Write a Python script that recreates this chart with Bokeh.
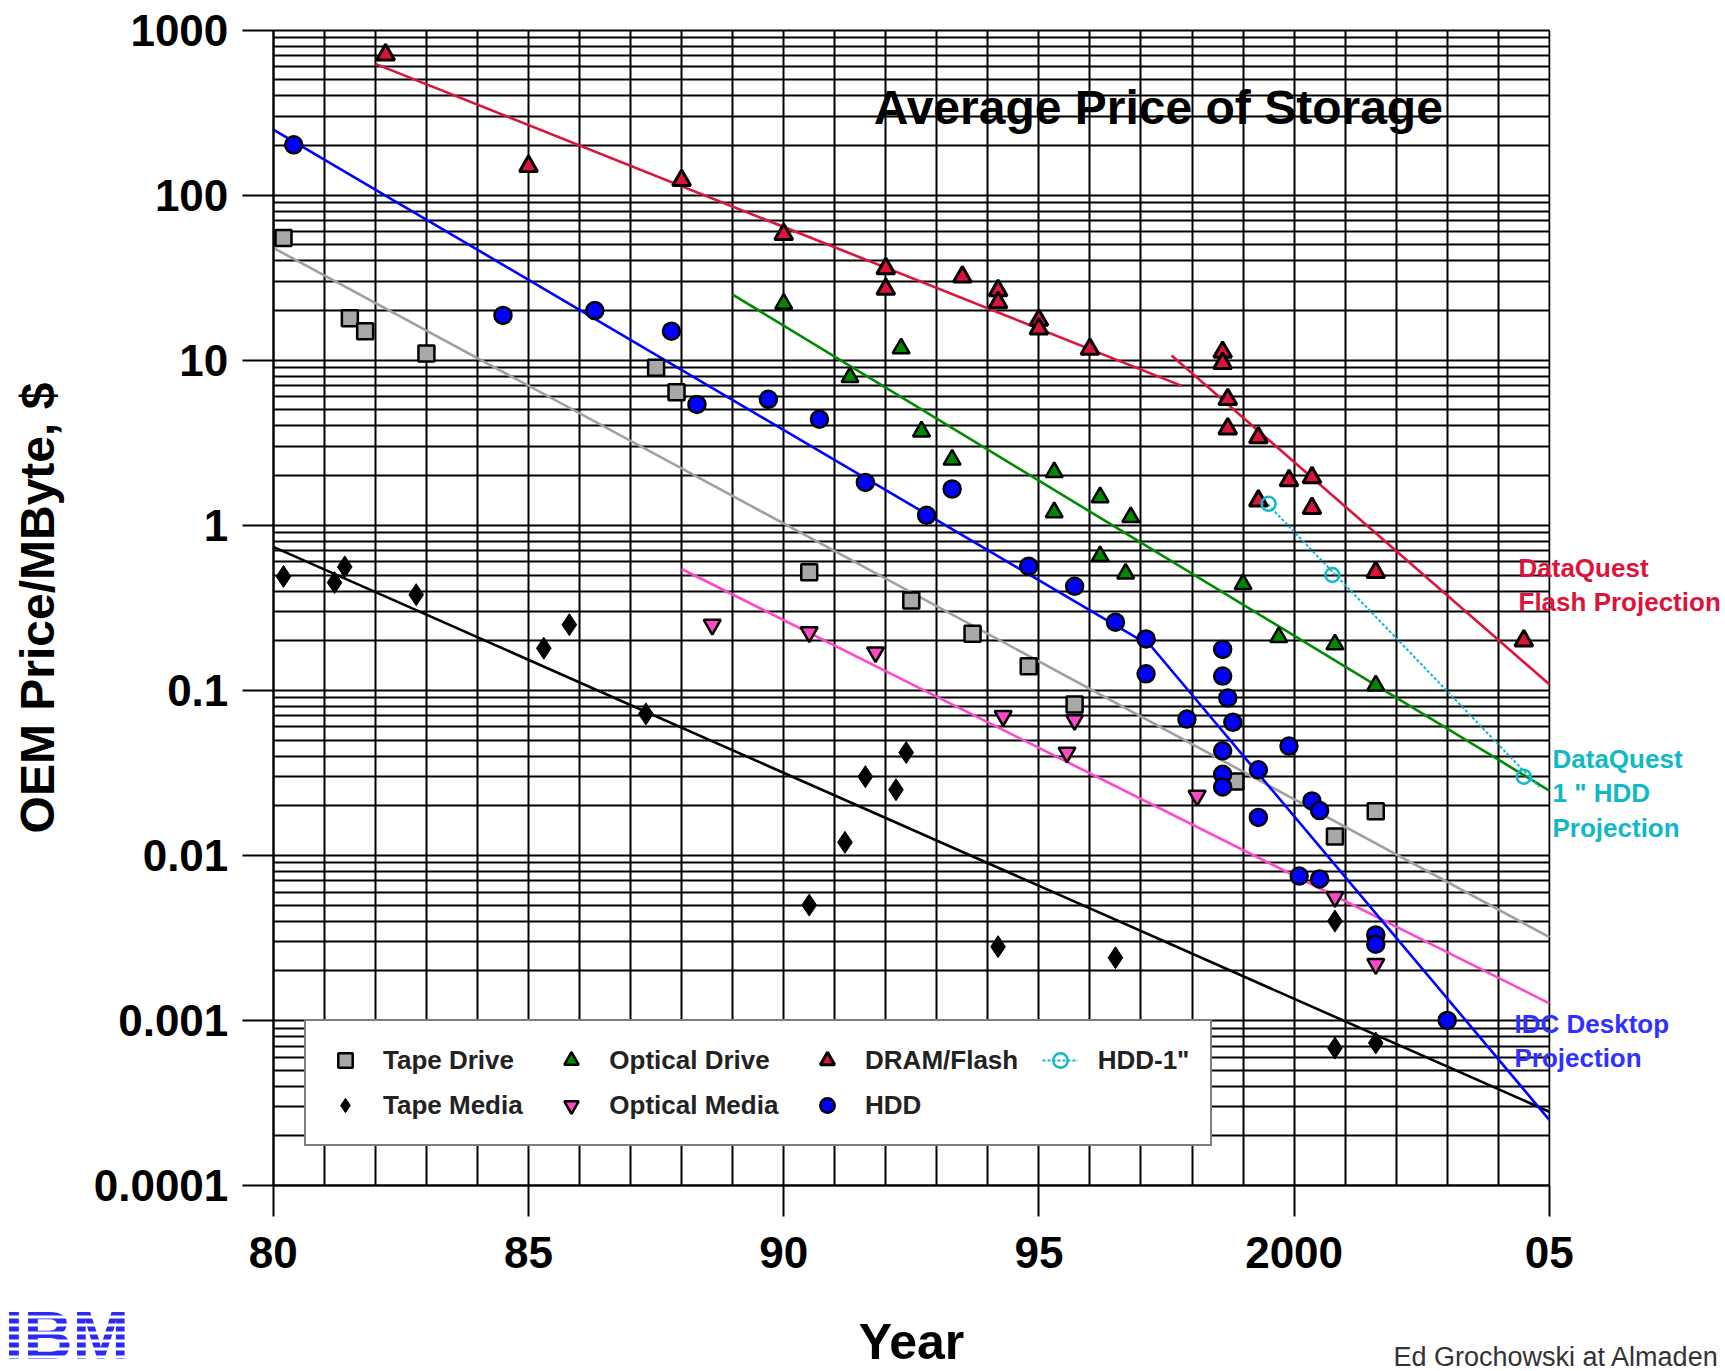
from bokeh.plotting import figure
from bokeh.models import FixedTicker, Label, Legend, LegendItem, Range1d, BoxAnnotation
from bokeh.embed import file_html
from bokeh.resources import INLINE

# ---------------- data ----------------
tape_drive_year = [1980.2, 1981.5, 1981.8, 1983.0, 1987.5, 1987.9, 1990.5, 1992.5,
                   1993.7, 1994.8, 1995.7, 1998.85, 2000.8, 2001.6]
tape_drive_price = [55, 18, 15, 11, 9.0, 6.4, 0.52, 0.35, 0.22, 0.14, 0.082, 0.028,
                    0.013, 0.0185]

tape_media_year = [1980.2, 1981.2, 1981.4, 1982.8, 1985.3, 1985.8, 1987.3, 1990.5,
                   1991.2, 1991.6, 1992.2, 1992.4, 1994.2, 1996.5, 2000.8, 2000.8, 2001.6]
tape_media_price = [0.49, 0.45, 0.56, 0.38, 0.18, 0.25, 0.072, 0.005, 0.012, 0.030,
                    0.025, 0.042, 0.0028, 0.0024, 0.004, 0.00068, 0.00073]

optical_drive_year = [1990.0, 1991.3, 1992.3, 1992.7, 1993.3, 1995.3, 1995.3, 1996.2,
                      1996.2, 1996.7, 1996.8, 1999.0, 1999.7, 2000.8, 2001.6]
optical_drive_price = [22, 7.9, 11.8, 3.7, 2.5, 2.1, 1.2, 1.48, 0.65, 0.51, 1.12,
                       0.44, 0.21, 0.19, 0.107]

optical_media_year = [1988.6, 1990.5, 1991.8, 1994.3, 1995.7, 1995.55, 1998.1, 2000.8, 2001.6]
optical_media_price = [0.25, 0.225, 0.17, 0.07, 0.066, 0.042, 0.023, 0.0056, 0.0022]

dram_year = [1982.2, 1985.0, 1988.0, 1990.0, 1992.0, 1992.0, 1993.5, 1994.2, 1994.2,
             1995.0, 1995.0, 1996.0, 1998.6, 1998.6, 1998.7, 1998.7, 1999.3, 1999.3,
             1999.9, 2000.35, 2000.35, 2001.6, 2004.5]
dram_price = [710, 150, 123, 58, 36, 27, 32, 26.5, 22.4, 17.5, 15.5, 11.7, 11.2, 9.6,
              5.8, 3.85, 3.4, 1.41, 1.87, 1.95, 1.27, 0.52, 0.2]

hdd_year = [1980.4, 1984.5, 1986.3, 1987.8, 1988.3, 1989.7, 1990.7, 1991.6, 1992.8,
            1993.3, 1994.8, 1995.7, 1996.5, 1997.1, 1997.1, 1997.9, 1998.6, 1998.6,
            1998.7, 1998.8, 1998.6, 1998.6, 1998.6, 1999.3, 1999.9, 1999.3, 2000.35,
            2000.5, 2000.1, 2000.5, 2001.6, 2001.6, 2003.0]
hdd_price = [202, 18.7, 20, 15, 5.4, 5.8, 4.4, 1.82, 1.15, 1.66, 0.565, 0.427, 0.259,
             0.205, 0.126, 0.067, 0.177, 0.122, 0.09, 0.064, 0.043, 0.031, 0.026,
             0.033, 0.046, 0.017, 0.0214, 0.0187, 0.0075, 0.0072, 0.0033, 0.0029, 0.001]

hdd1_year = [1999.5, 2000.75, 2004.5]
hdd1_price = [1.35, 0.50, 0.030]

# trend / projection lines
tape_drive_fit_year = [1980.0, 2005.0]
tape_drive_fit_price = [48, 0.0032]
tape_media_fit_year = [1980.0, 2005.0]
tape_media_fit_price = [0.74, 0.00028]
optical_drive_fit_year = [1989.0, 2005.0]
optical_drive_fit_price = [25, 0.0247]
optical_media_fit_year = [1988.0, 2005.0]
optical_media_fit_price = [0.544, 0.00127]
dram_fit_year = [1982.0, 1997.8]
dram_fit_price = [625, 7.0]
flash_proj_year = [1997.6, 2005.0]
flash_proj_price = [10.7, 0.109]
hdd_fit_year = [1980.0, 1997.2, 2005.0]
hdd_fit_price = [250, 0.185, 0.00025]
hdd1_fit_year = [1999.35, 2004.8]
hdd1_fit_price = [1.48, 0.026]

x_ticks = [1980, 1985, 1990, 1995, 2000, 2005]
x_tick_labels = ["80", "85", "90", "95", "2000", "05"]
y_ticks = [1e-4, 1e-3, 1e-2, 1e-1, 1, 10, 100, 1000]
y_tick_labels = ["0.0001", "0.001", "0.01", "0.1", "1", "10", "100", "1000"]

# ---------------- layout ----------------
W, H = 1725, 1371
B = 2                                   # thin white border round the frame
PX_LEFT, PX_RIGHT = 272.8, 1548.8       # pixel columns of 1980 and 2005
PX_TOP, PX_BOTTOM = 29.7, 1185.0        # pixel rows of 1000 and 0.0001
PX_PER_YEAR = (PX_RIGHT - PX_LEFT) / 25.0
PX_PER_DEC = (PX_BOTTOM - PX_TOP) / 7.0


def xd(px):
    return 1980.0 + (px - PX_LEFT) / PX_PER_YEAR


def yd(py):
    return 10 ** (3.0 - (py - PX_TOP) / PX_PER_DEC)


RED = "#DC143C"
BLUE = "#0000FF"
GREEN = "#008A00"
GRAY_L = "#A0A0A0"
GRAY_F = "#A8A8A8"
PINK = "#FF48C8"
CYAN = "#10B8C8"
FONT = "Liberation Sans"

p = figure(width=W, height=H, output_backend="svg", toolbar_location=None,
           y_axis_type="log", x_range=Range1d(xd(B), xd(W - B)),
           y_range=Range1d(yd(H - B), yd(B)),
           min_border_left=B, min_border_right=B, min_border_top=B, min_border_bottom=B)
p.background_fill_color = "white"
p.border_fill_color = "white"
p.outline_line_color = None

# grids
p.xgrid.ticker = FixedTicker(ticks=list(range(1980, 2006)))
grid_vals = [m * 10.0 ** e for e in range(-4, 3) for m in range(1, 10)] + [1000.0]
p.ygrid.ticker = FixedTicker(ticks=grid_vals)
for g in (p.xgrid, p.ygrid):
    g.grid_line_color = "black"
    g.grid_line_width = 2
    g.grid_line_alpha = 1.0
if "cross_bounds" in p.xgrid[0].properties():
    p.xgrid.cross_bounds = (1e-4, 1e3)
    p.ygrid.cross_bounds = (1980, 2005)

# white masks outside the plotting area
OUT = 60
mask = dict(fill_color="white", fill_alpha=1, line_color=None, level="underlay")
p.add_layout(BoxAnnotation(left=xd(-OUT), right=xd(PX_LEFT - 1.2),
                           bottom=yd(H + OUT), top=yd(-OUT), **mask))
p.add_layout(BoxAnnotation(left=xd(PX_RIGHT + 1.2), right=xd(W + OUT),
                           bottom=yd(H + OUT), top=yd(-OUT), **mask))
p.add_layout(BoxAnnotation(left=xd(-OUT), right=xd(W + OUT),
                           bottom=yd(PX_TOP - 1.2), top=yd(-OUT), **mask))
p.add_layout(BoxAnnotation(left=xd(-OUT), right=xd(W + OUT),
                           bottom=yd(H + OUT), top=yd(PX_BOTTOM + 1.2), **mask))

# axes, fixed at the plotting-area edges
p.xaxis.fixed_location = 1e-4
p.yaxis.fixed_location = 1980
p.xaxis.bounds = (1980, 2005)
p.yaxis.bounds = (1e-4, 1e3)
p.xaxis.ticker = FixedTicker(ticks=x_ticks, minor_ticks=[])
p.xaxis.major_label_overrides = dict(zip(x_ticks, x_tick_labels))
p.yaxis.ticker = FixedTicker(ticks=y_ticks, minor_ticks=[])
p.yaxis.major_label_overrides = dict(zip(y_ticks, y_tick_labels))
for ax in (p.xaxis, p.yaxis):
    ax.major_tick_out = 31
    ax.major_tick_in = 0
    ax.minor_tick_out = 0
    ax.minor_tick_in = 0
    ax.major_tick_line_width = 2
    ax.major_tick_line_color = "black"
    ax.axis_line_width = 2
    ax.axis_line_color = "black"
    ax.major_label_text_font = FONT
    ax.major_label_text_font_style = "bold"
    ax.major_label_text_font_size = "44px"
    ax.major_label_text_color = "black"
    ax.axis_label_text_font = FONT
    ax.axis_label_text_font_style = "bold"
    ax.axis_label_text_color = "black"
p.xaxis.major_label_standoff = 20
p.yaxis.major_label_standoff = 14
p.xaxis.axis_label = "Year"
p.xaxis.axis_label_text_font_size = "50px"
p.xaxis.axis_label_standoff = 43
p.yaxis.axis_label = "OEM Price/MByte, $"
p.yaxis.axis_label_text_font_size = "48px"
p.yaxis.axis_label_standoff = 27

LW = 2.6
# trend lines
p.line(tape_drive_fit_year, tape_drive_fit_price, line_color=GRAY_L, line_width=LW)
p.line(tape_media_fit_year, tape_media_fit_price, line_color="black", line_width=LW)
p.line(optical_drive_fit_year, optical_drive_fit_price, line_color=GREEN, line_width=LW)
p.line(optical_media_fit_year, optical_media_fit_price, line_color=PINK, line_width=LW)
p.line(dram_fit_year, dram_fit_price, line_color=RED, line_width=LW)
p.line(flash_proj_year, flash_proj_price, line_color=RED, line_width=LW)
p.line(hdd_fit_year, hdd_fit_price, line_color=BLUE, line_width=LW)
hdd1_line = p.line(hdd1_fit_year, hdd1_fit_price, line_color=CYAN, line_width=2,
                   line_dash="3 2")

# markers
r_td = p.scatter(tape_drive_year, tape_drive_price, marker="square", size=16,
                 fill_color=GRAY_F, line_color="black", line_width=2.5)
r_tm = p.scatter(tape_media_year, tape_media_price, marker="diamond", size=22,
                 fill_color="black", line_color="black", line_width=1)
r_od = p.scatter(optical_drive_year, optical_drive_price, marker="triangle", size=17,
                 fill_color=GREEN, line_color="black", line_width=2.5)
r_om = p.scatter(optical_media_year, optical_media_price, marker="inverted_triangle",
                 size=17, fill_color=PINK, line_color="black", line_width=2.5)
r_dr = p.scatter(dram_year, dram_price, marker="triangle", size=18,
                 fill_color=RED, line_color="black", line_width=3)
r_hd = p.scatter(hdd_year, hdd_price, marker="circle", size=17,
                 fill_color=BLUE, line_color="black", line_width=2.5)
r_h1 = p.scatter(hdd1_year, hdd1_price, marker="circle", size=14,
                 fill_color=None, line_color=CYAN, line_width=2.5)

NB = "\u00a0"
legend = Legend(items=[
    LegendItem(label="Tape Drive", renderers=[r_td]),
    LegendItem(label="Tape Media" + NB * 3, renderers=[r_tm]),
    LegendItem(label="Optical Drive", renderers=[r_od]),
    LegendItem(label="Optical Media" + NB * 3, renderers=[r_om]),
    LegendItem(label="DRAM/Flash" + NB * 2, renderers=[r_dr]),
    LegendItem(label="HDD", renderers=[r_hd]),
    LegendItem(label='HDD-1"', renderers=[hdd1_line, r_h1]),
], location=(304 - B, H - B - 1146), orientation="vertical", nrows=2)
legend.label_text_font = FONT
legend.label_text_font_style = "bold"
legend.label_text_font_size = "26px"
legend.label_text_color = "#222222"
legend.glyph_width = 36
legend.glyph_height = 36
legend.label_height = 36
legend.label_standoff = 20
legend.spacing = 9
legend.padding = 21
legend.margin = 0
legend.border_line_color = "black"
legend.border_line_width = 2.5
legend.background_fill_color = "white"
legend.background_fill_alpha = 1.0
p.add_layout(legend)


# texts
def add_label(x, y, text, size, color, style="bold", align="left", baseline="middle"):
    p.add_layout(Label(x=x, y=y, text=text, text_font=FONT, text_font_size=size,
                       text_font_style=style, text_color=color, text_align=align,
                       text_baseline=baseline))


add_label(1997.34, 340, "Average Price of Storage", "48px", "black", align="center")
add_label(xd(1518), yd(567), "DataQuest", "26px", RED)
add_label(xd(1518), yd(601), "Flash Projection", "26px", RED)
add_label(xd(1552), yd(758), "DataQuest", "26px", CYAN)
add_label(xd(1552), yd(792), '1 " HDD', "26px", CYAN)
add_label(xd(1552), yd(827), "Projection", "26px", CYAN)
add_label(xd(1514), yd(1023), "IDC Desktop", "26px", "#3030FF")
add_label(xd(1514), yd(1057), "Projection", "26px", "#3030FF")
add_label(xd(4), yd(1334), "IBM", "68px", "#2A2AF2")
add_label(xd(1393), yd(1356), "Ed Grochowski at Almaden", "27px", "#333333",
          style="normal")
# white stripes across the logo
p.add_layout(BoxAnnotation(left=xd(B), right=xd(145), bottom=yd(H - B), top=yd(1294),
                           fill_alpha=0, line_color=None, hatch_pattern="horizontal_line",
                           hatch_color="white", hatch_scale=8, hatch_weight=3))

open("out.html", "w").write(file_html(p, INLINE))
